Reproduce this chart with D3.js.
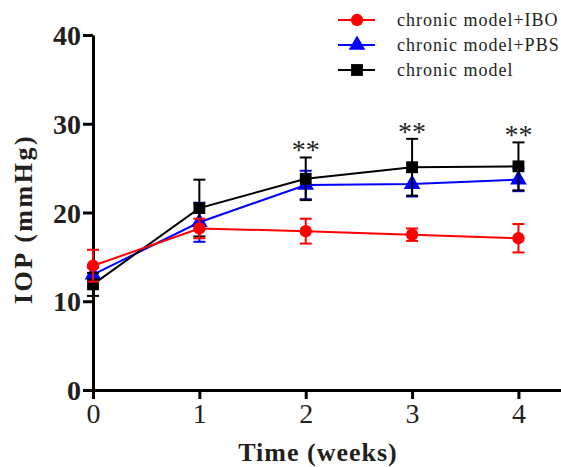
<!DOCTYPE html>
<html>
<head>
<meta charset="utf-8">
<script src="https://cdn.jsdelivr.net/npm/d3@7"></script>
<style>
  body { margin: 0; background: #fff; }
  svg { display: block; }
  svg text { font-family: "Liberation Serif", "Times New Roman", Times, "DejaVu Serif", serif; }
</style>
</head>
<body>
<script>
// data
var weeks = [0, 1, 2, 3, 4];
var iboMean  = [14.0, 18.2, 17.9, 17.5, 17.1];
var iboSd    = [1.8, 1.1, 1.4, 0.7, 1.6];
var pbsMean  = [13.0, 18.9, 23.1, 23.2, 23.7];
var pbsSd    = [0.8, 2.2, 1.6, 1.4, 1.3];
var modelMean = [11.9, 20.5, 23.8, 25.1, 25.2];
var modelSd   = [1.3, 3.2, 2.4, 3.2, 2.7];
var starLabels = ["", "", "**", "**", "**"];
var yTicks = [0, 10, 20, 30, 40];
var seriesNames = ["chronic model+IBO", "chronic model+PBS", "chronic model"];

var width = 561, height = 467;
var svg = d3.select("body").append("svg")
    .attr("width", width)
    .attr("height", height);

var x = d3.scaleLinear().domain([0, 4.4]).range([93, 561]);
var y = d3.scaleLinear().domain([0, 40]).range([390, 35]);

var series = [
    {name: seriesNames[1], mean: pbsMean, sd: pbsSd, color: "#0000ff", shape: d3.symbolTriangle, size: 120},
    {name: seriesNames[2], mean: modelMean, sd: modelSd, color: "#000000", shape: d3.symbolSquare, size: 140},
    {name: seriesNames[0], mean: iboMean, sd: iboSd, color: "#ff0000", shape: d3.symbolCircle, size: 120}
];

// axes
var xAxis = d3.axisBottom(x).tickValues(weeks).tickFormat(d3.format("d"))
    .tickSize(9).tickSizeOuter(0).tickPadding(4);
var yAxis = d3.axisLeft(y).tickValues(yTicks).tickFormat(d3.format("d"))
    .tickSize(10).tickSizeOuter(0).tickPadding(2);

var gx = svg.append("g").attr("transform", "translate(0," + y(0) + ")").call(xAxis);
var gy = svg.append("g").attr("transform", "translate(" + x(0) + ",0)").call(yAxis);

[gx, gy].forEach(function(g) {
    g.attr("font-family", null);
    g.select(".domain").attr("stroke", "#000").attr("stroke-width", 3);
    g.selectAll(".tick line").attr("stroke", "#000").attr("stroke-width", 3);
    g.selectAll(".tick text")
        .attr("fill", "#231f20")
        .style("font-size", "28px");
});
gy.selectAll(".tick text").style("font-weight", "bold").attr("dy", "0.34em");
gx.selectAll(".tick text").attr("dy", "0.72em");

// axis titles
svg.append("text")
    .attr("x", 318).attr("y", 461)
    .attr("text-anchor", "middle")
    .attr("fill", "#231f20")
    .style("font-size", "26px")
    .style("font-weight", "bold")
    .style("letter-spacing", "1px")
    .text("Time (weeks)");

svg.append("text")
    .attr("transform", "translate(32,219) rotate(-90)")
    .attr("text-anchor", "middle")
    .attr("fill", "#231f20")
    .style("font-size", "26px")
    .style("font-weight", "bold")
    .style("letter-spacing", "2.5px")
    .text("IOP (mmHg)");

// series
var line = d3.line()
    .x(function(d, i) { return x(weeks[i]); })
    .y(function(d) { return y(d); });

series.forEach(function(s) {
    var g = svg.append("g");
    g.append("path")
        .attr("d", line(s.mean))
        .attr("fill", "none")
        .attr("stroke", s.color)
        .attr("stroke-width", 2);

    var eb = g.selectAll(".eb").data(s.mean).enter().append("g");
    eb.append("line")
        .attr("x1", function(d, i) { return x(weeks[i]); })
        .attr("x2", function(d, i) { return x(weeks[i]); })
        .attr("y1", function(d, i) { return y(d - s.sd[i]); })
        .attr("y2", function(d, i) { return y(d + s.sd[i]); })
        .attr("stroke", s.color).attr("stroke-width", 2);
    [-1, 1].forEach(function(sign) {
        eb.append("line")
            .attr("x1", function(d, i) { return x(weeks[i]) - 6; })
            .attr("x2", function(d, i) { return x(weeks[i]) + 6; })
            .attr("y1", function(d, i) { return y(d + sign * s.sd[i]); })
            .attr("y2", function(d, i) { return y(d + sign * s.sd[i]); })
            .attr("stroke", s.color).attr("stroke-width", 2);
    });

    g.selectAll(".pt").data(s.mean).enter().append("path")
        .attr("d", d3.symbol().type(s.shape).size(s.size))
        .attr("transform", function(d, i) { return "translate(" + x(weeks[i]) + "," + y(d) + ")"; })
        .attr("fill", s.color);
});

// significance marks
svg.selectAll(".star").data(modelMean).enter().append("text")
    .attr("x", function(d, i) { return x(weeks[i]); })
    .attr("y", function(d, i) { return y(d + modelSd[i]) + 2; })
    .attr("text-anchor", "middle")
    .attr("fill", "#231f20")
    .style("font-size", "28px")
    .text(function(d, i) { return starLabels[i]; });

// legend
var legendSeries = [series[2], series[0], series[1]];
var lg = svg.append("g");
legendSeries.forEach(function(s, i) {
    var ly = 20 + i * 25;
    lg.append("line")
        .attr("x1", 338).attr("x2", 375)
        .attr("y1", ly).attr("y2", ly)
        .attr("stroke", s.color).attr("stroke-width", 2);
    lg.append("path")
        .attr("d", d3.symbol().type(s.shape).size(s.size))
        .attr("transform", "translate(357," + ly + ")")
        .attr("fill", s.color);
    lg.append("text")
        .attr("x", 397).attr("y", ly + 6)
        .attr("fill", "#231f20")
        .style("font-size", "18px")
        .style("letter-spacing", "1px")
        .text(s.name);
});
</script>
</body>
</html>
